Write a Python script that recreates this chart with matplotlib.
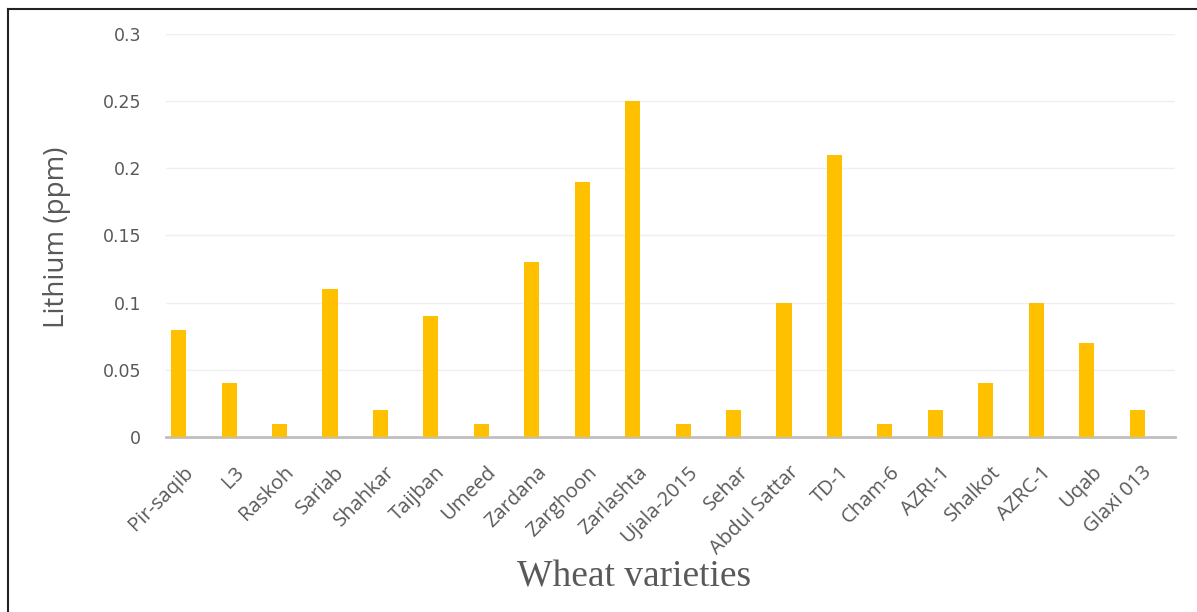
import matplotlib.pyplot as plt
from matplotlib.lines import Line2D
from matplotlib.transforms import ScaledTranslation

varieties = ["Pir-saqib", "L3", "Raskoh", "Sariab", "Shahkar", "Taijban", "Umeed",
             "Zardana", "Zarghoon", "Zarlashta", "Ujala-2015", "Sehar", "Abdul Sattar",
             "TD-1", "Cham-6", "AZRI-1", "Shalkot", "AZRC-1", "Uqab", "Glaxi 013"]
lithium = [0.08, 0.04, 0.01, 0.11, 0.02, 0.09, 0.01, 0.13, 0.19, 0.25,
           0.01, 0.02, 0.10, 0.21, 0.01, 0.02, 0.04, 0.10, 0.07, 0.02]
yticks = [0, 0.05, 0.1, 0.15, 0.2, 0.25, 0.3]
ytick_labels = ["0", "0.05", "0.1", "0.15", "0.2", "0.25", "0.3"]

text_grey = "#595959"

fig = plt.figure(figsize=(11.97, 6.12), dpi=100)
ax = fig.add_axes([0.1387, 0.286, 0.8429, 0.6584])

# bars sit a little left of each category centre (clustered-bar slot)
x = list(range(len(varieties)))
ax.bar([i - 0.25 for i in x], lithium, width=0.30, color="#FFC000", zorder=3)

ax.set_xlim(-0.5, len(varieties) - 0.5)
ax.set_ylim(0, 0.3)
ax.set_yticks(yticks)
ax.set_yticklabels(ytick_labels, fontfamily="DejaVu Sans", fontsize=12.5, color=text_grey)
ax.set_xticks(x)
ax.set_xticklabels(varieties, rotation=45, ha="right", rotation_mode="anchor",
                   fontfamily="Open Sans", fontsize=14.5, color=text_grey)
ax.tick_params(axis="both", length=0)
ax.tick_params(axis="y", pad=18)
ax.tick_params(axis="x", pad=14)

# nudge the slanted labels a touch left and down
shift = ScaledTranslation(-0.08, -0.06, fig.dpi_scale_trans)
for lbl in ax.get_xticklabels():
    lbl.set_transform(lbl.get_transform() + shift)

ax.grid(axis="y", color="#EFEFEF", linewidth=1, zorder=0)
for side in ["top", "right", "left"]:
    ax.spines[side].set_visible(False)
ax.spines["bottom"].set_color("#BFBFBF")
ax.spines["bottom"].set_linewidth(2)

ax.set_ylabel("Lithium (ppm)", fontfamily="Open Sans", fontsize=20, color=text_grey)
ax.yaxis.set_label_coords(-0.094, 0.496)
fig.text(0.530, 0.057, "Wheat varieties", fontfamily="Liberation Serif", fontsize=27,
         color=text_grey, ha="center", va="center")

# frame lines along the top and left edges of the figure
fx = 8 / 1197
fy = 1 - 9 / 612
fig.add_artist(Line2D([fx, 1.0], [fy, fy], transform=fig.transFigure,
                      color="#222222", linewidth=1.5))
fig.add_artist(Line2D([fx, fx], [0.0, fy], transform=fig.transFigure,
                      color="#222222", linewidth=1.5))

fig.savefig("out.png", dpi=100)
